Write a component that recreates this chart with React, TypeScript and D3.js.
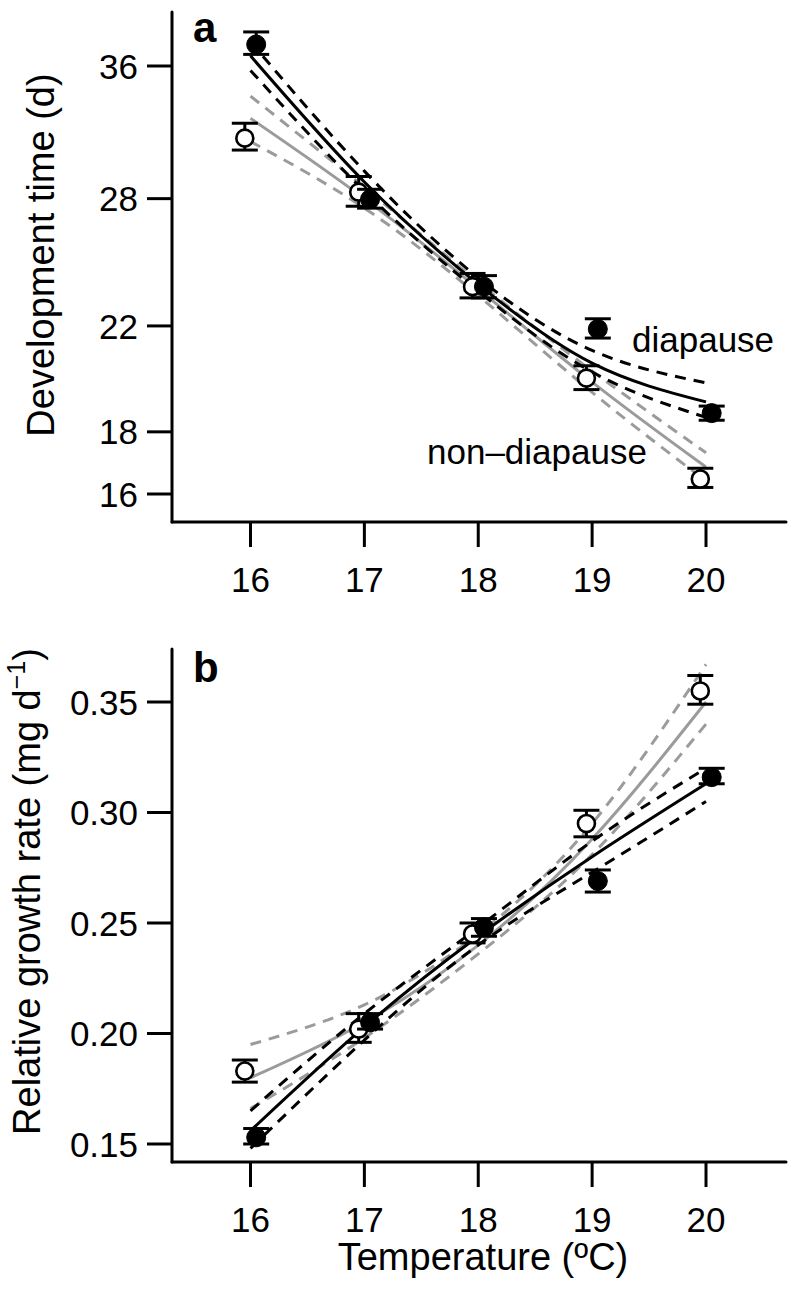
import React from "react";
import * as d3 from "d3";

// ---------- data ----------
const temps = [16, 17, 18, 19, 20];
const xTicks = [16, 17, 18, 19, 20];
const aTicks = [16, 18, 22, 28, 36];
const bTicks = [0.15, 0.2, 0.25, 0.3, 0.35];
const bTickLabels = ["0.15", "0.20", "0.25", "0.30", "0.35"];

// panel a: development time (d)
const aDiaMean = [37.5, 27.97, 23.7, 21.87, 18.65];
const aDiaLo = [36.8, 27.5, 23.2, 21.5, 18.4];
const aDiaHi = [38.4, 28.5, 24.2, 22.3, 18.9];
const aNonMean = [31.4, 28.35, 23.7, 19.93, 16.46];
const aNonLo = [30.7, 27.6, 23.2, 19.5, 16.2];
const aNonHi = [32.3, 29.2, 24.3, 20.4, 16.8];
const aDiaFit = [36.7, 28.9, 23.8, 20.5, 19.05];
const aDiaFitHi = [37.7, 29.5, 24.1, 21.0, 19.75];
const aDiaFitLo = [35.7, 28.4, 23.5, 20.16, 18.5];
const aNonFit = [32.6, 28.0, 23.6, 19.78, 16.84];
const aNonFitHi = [34.0, 28.6, 23.9, 20.2, 17.3];
const aNonFitLo = [31.2, 27.5, 23.3, 19.4, 16.4];

// panel b: relative growth rate
const bDiaMean = [0.153, 0.205, 0.248, 0.269, 0.316];
const bDiaLo = [0.15, 0.202, 0.244, 0.264, 0.313];
const bDiaHi = [0.157, 0.209, 0.252, 0.274, 0.32];
const bNonMean = [0.183, 0.202, 0.245, 0.295, 0.355];
const bNonLo = [0.178, 0.196, 0.241, 0.289, 0.349];
const bNonHi = [0.188, 0.209, 0.25, 0.301, 0.362];
const bDiaFit = [0.156, 0.203, 0.244, 0.28, 0.313];
const bDiaFitHi = [0.165, 0.209, 0.248, 0.287, 0.32];
const bDiaFitLo = [0.148, 0.197, 0.24, 0.273, 0.305];
const bNonFit = [0.18, 0.205, 0.24, 0.288, 0.35];
const bNonFitHi = [0.195, 0.213, 0.245, 0.295, 0.367];
const bNonFitLo = [0.166, 0.198, 0.236, 0.281, 0.34];

// ---------- layout ----------
const W = 790;
const H = 1293;
const AX_X = 172;
const X_RIGHT = 786;
const TICK = 25;
const FONT = "'Liberation Sans', Arial, Helvetica, sans-serif";
const FS = 35;
const TFS = 38;
const GRAY = "#9b9b9b";
const LW = 3;
const OFF = 0.05;

const x = d3.scaleLinear().domain([16, 20]).range([250.5, 706]);
const yA = d3.scaleLog().domain([16, 36]).range([494, 66]);
const yB = d3.scaleLinear().domain([0.15, 0.35]).range([1144, 702]);

type Scale = (v: number) => number;

function Fit({ vals, y, color, dashed }: { vals: number[]; y: Scale; color: string; dashed?: boolean }) {
  const line = d3
    .line<number>()
    .x((_, i) => x(temps[i]))
    .y((v) => y(v))
    .curve(d3.curveNatural);
  return (
    <path
      d={line(vals) || ""}
      fill="none"
      stroke={color}
      strokeWidth={LW}
      strokeDasharray={dashed ? "11 8" : undefined}
    />
  );
}

function Points({
  mean, lo, hi, y, filled, dx,
}: { mean: number[]; lo: number[]; hi: number[]; y: Scale; filled: boolean; dx: number }) {
  return (
    <g>
      {temps.map((t, i) => {
        const cx = x(t + dx);
        return (
          <g key={i}>
            <line x1={cx} x2={cx} y1={y(lo[i])} y2={y(hi[i])} stroke="#000" strokeWidth={LW} />
            <line x1={cx - 13} x2={cx + 13} y1={y(lo[i])} y2={y(lo[i])} stroke="#000" strokeWidth={LW} />
            <line x1={cx - 13} x2={cx + 13} y1={y(hi[i])} y2={y(hi[i])} stroke="#000" strokeWidth={LW} />
            <circle
              cx={cx}
              cy={y(mean[i])}
              r={filled ? 9.5 : 8.5}
              fill={filled ? "#000" : "#fff"}
              stroke="#000"
              strokeWidth={filled ? 1 : 2.6}
            />
          </g>
        );
      })}
    </g>
  );
}

function Axes({ y, top, bottom, ticks, labels }: { y: Scale; top: number; bottom: number; ticks: number[]; labels: string[] }) {
  return (
    <g>
      <line x1={AX_X} x2={AX_X} y1={top} y2={bottom} stroke="#000" strokeWidth={LW} strokeLinecap="round" />
      <line x1={AX_X} x2={X_RIGHT} y1={bottom} y2={bottom} stroke="#000" strokeWidth={LW} strokeLinecap="round" />
      {ticks.map((t, i) => (
        <g key={i}>
          <line x1={AX_X - TICK} x2={AX_X} y1={y(t)} y2={y(t)} stroke="#000" strokeWidth={LW} />
          <text
            x={AX_X - TICK - 9}
            y={y(t)}
            dy="0.36em"
            textAnchor="end"
            fontSize={FS}
            fontFamily={FONT}
          >
            {labels[i]}
          </text>
        </g>
      ))}
      {xTicks.map((t, i) => (
        <g key={"x" + i}>
          <line x1={x(t)} x2={x(t)} y1={bottom} y2={bottom + TICK} stroke="#000" strokeWidth={LW} />
          <text x={x(t)} y={bottom + 70} textAnchor="middle" fontSize={FS} fontFamily={FONT}>
            {t}
          </text>
        </g>
      ))}
    </g>
  );
}

export default function App() {
  const aBottom = 522;
  const bBottom = 1162;
  return (
    <svg width={W} height={H} style={{ position: "absolute", left: 0, top: 0, background: "#fff" }}>
      <rect width={W} height={H} fill="#fff" />
      {/* panel a */}
      <Axes y={yA} top={12} bottom={aBottom} ticks={aTicks} labels={aTicks.map(String)} />
      <Fit vals={aNonFitHi} y={yA} color={GRAY} dashed />
      <Fit vals={aNonFitLo} y={yA} color={GRAY} dashed />
      <Fit vals={aNonFit} y={yA} color={GRAY} />
      <Fit vals={aDiaFitHi} y={yA} color="#000" dashed />
      <Fit vals={aDiaFitLo} y={yA} color="#000" dashed />
      <Fit vals={aDiaFit} y={yA} color="#000" />
      <Points mean={aNonMean} lo={aNonLo} hi={aNonHi} y={yA} filled={false} dx={-OFF} />
      <Points mean={aDiaMean} lo={aDiaLo} hi={aDiaHi} y={yA} filled={true} dx={OFF} />
      <text x={193} y={42} fontSize={42} fontWeight="bold" fontFamily={FONT}>a</text>
      <text x={632} y={352} fontSize={FS} fontFamily={FONT}>diapause</text>
      <text x={427} y={464} fontSize={FS} fontFamily={FONT}>non–diapause</text>
      <text
        transform={`translate(54, ${(12 + aBottom) / 2 - 12}) rotate(-90)`}
        textAnchor="middle"
        fontSize={TFS}
        fontFamily={FONT}
      >
        Development time (d)
      </text>

      {/* panel b */}
      <Axes y={yB} top={649} bottom={bBottom} ticks={bTicks} labels={bTickLabels} />
      <Fit vals={bNonFitHi} y={yB} color={GRAY} dashed />
      <Fit vals={bNonFitLo} y={yB} color={GRAY} dashed />
      <Fit vals={bNonFit} y={yB} color={GRAY} />
      <Fit vals={bDiaFitHi} y={yB} color="#000" dashed />
      <Fit vals={bDiaFitLo} y={yB} color="#000" dashed />
      <Fit vals={bDiaFit} y={yB} color="#000" />
      <Points mean={bNonMean} lo={bNonLo} hi={bNonHi} y={yB} filled={false} dx={-OFF} />
      <Points mean={bDiaMean} lo={bDiaLo} hi={bDiaHi} y={yB} filled={true} dx={OFF} />
      <text x={193} y={682} fontSize={42} fontWeight="bold" fontFamily={FONT}>b</text>
      <text
        transform={`translate(40, ${(649 + bBottom) / 2 - 14}) rotate(-90)`}
        textAnchor="middle"
        fontSize={TFS}
        fontFamily={FONT}
      >
        Relative growth rate (mg d
        <tspan fontSize={25} dy={-15}>−1</tspan>
        <tspan dy={15}>)</tspan>
      </text>
      <text x={483} y={1270} textAnchor="middle" fontSize={TFS} fontFamily={FONT}>
        Temperature (ºC)
      </text>
    </svg>
  );
}
